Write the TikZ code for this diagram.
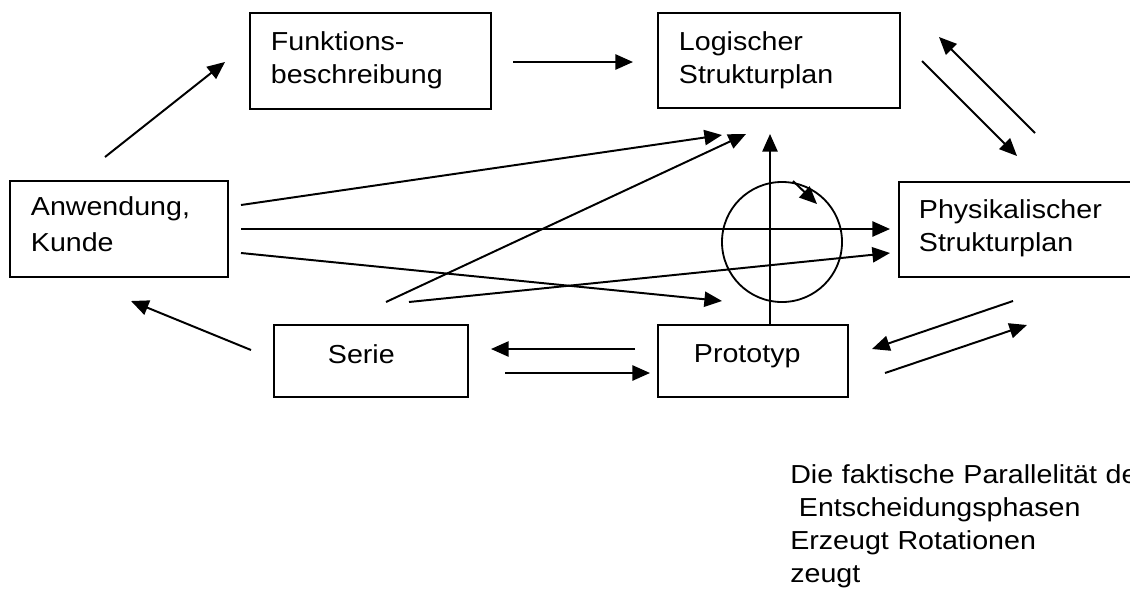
\documentclass[tikz,border=0pt]{standalone}
\usepackage{fontspec}
\setmainfont{Liberation Sans}[FakeStretch=1.1]
\usetikzlibrary{arrows.meta}
\usetikzlibrary{positioning}

\tikzset{
  kasten/.style={draw,line width=1.3pt,anchor=base west,align=left,inner ysep=0pt,font=\fontsize{18.5}{23.5}\selectfont},
  pfeil/.style={-{Triangle[length=0.44cm,width=0.38cm]},line width=1.4pt},
}

\begin{document}
\begin{tikzpicture}[x=0.025cm,y=-0.025cm]
\useasboundingbox (0,0) rectangle (1130,588);

\node[kasten,inner xsep=0.525cm,text width=4.975cm,text height=0.925cm,text depth=1.475cm] (fkt) at (249,50) {Funktions-\\beschreibung};
\node[kasten,inner xsep=0.525cm,text width=5cm,text height=0.925cm,text depth=1.45cm] (lsp) at (657,50) {Logischer\\Strukturplan};
\node[kasten,inner xsep=0.525cm,text width=4.4cm,text height=0.85cm,text depth=1.55cm,font=\fontsize{18.5}{26.2}\selectfont] (anw) at (9,215) {Anwendung,\\Kunde};
\node[kasten,inner xsep=0.5cm,text width=5.05cm,text height=0.9cm,text depth=1.475cm] (psp) at (898,218) {Physikalischer\\Strukturplan};
\node[kasten,inner xsep=1.35cm,text width=2.15cm,text height=0.95cm,text depth=0.85cm] (ser) at (273,363) {Serie};
\node[kasten,inner xsep=0.9cm,text width=2.95cm,text height=0.925cm,text depth=0.875cm] (pro) at (657,362) {Prototyp};
\node[draw,circle,line width=1.3pt,minimum size=3cm,inner sep=0pt] (kreis) at (782,242) {};

\coordinate (a1) at (105,157); \coordinate (a2) at (225,62);
\coordinate (b1) at (513,62); \coordinate (b2) at (633,62);
\coordinate (c1) at (1035,133); \coordinate (c2) at (939,37);
\coordinate (d1) at (922,61); \coordinate (d2) at (1017,156);
\coordinate (e1) at (1013,301); \coordinate (e2) at (872,349);
\coordinate (f1) at (885,373); \coordinate (f2) at (1027,325);
\coordinate (g1) at (635,349); \coordinate (g2) at (491,349);
\coordinate (h1) at (505,373); \coordinate (h2) at (650,373);
\coordinate (i1) at (251,350); \coordinate (i2) at (131,301);
\coordinate (k1) at (241,205); \coordinate (k2) at (722,135);
\coordinate (l1) at (241,229); \coordinate (l2) at (890,229);
\coordinate (m1) at (241,253); \coordinate (m2) at (722,301);
\coordinate (n1) at (386,302); \coordinate (n2) at (746,134);
\coordinate (o1) at (409,302); \coordinate (o2) at (890,253);
\coordinate (p1) at (770,325); \coordinate (p2) at (770,134);
\coordinate (q1) at (793,181); \coordinate (q2) at (817,204);

\draw[pfeil] (a1) -- (a2);
\draw[pfeil] (b1) -- (b2);
\draw[pfeil] (c1) -- (c2);
\draw[pfeil] (d1) -- (d2);
\draw[pfeil] (e1) -- (e2);
\draw[pfeil] (f1) -- (f2);
\draw[pfeil] (g1) -- (g2);
\draw[pfeil] (h1) -- (h2);
\draw[pfeil] (i1) -- (i2);
\draw[pfeil] (k1) -- (k2);
\draw[pfeil] (l1) -- (l2);
\draw[pfeil] (m1) -- (m2);
\draw[pfeil] (n1) -- (n2);
\draw[pfeil] (o1) -- (o2);
\draw[pfeil] (p1) -- (p2);
\draw[pfeil] (q1) -- (q2);

\node[anchor=base west,inner sep=0pt,align=left,text width=10cm,font=\fontsize{18.5}{23.5}\selectfont] (notiz) at (790,483) {Die faktische Parallelität de\\\ Entscheidungsphasen\\Erzeugt Rotationen\\zeugt};

\end{tikzpicture}
\end{document}
